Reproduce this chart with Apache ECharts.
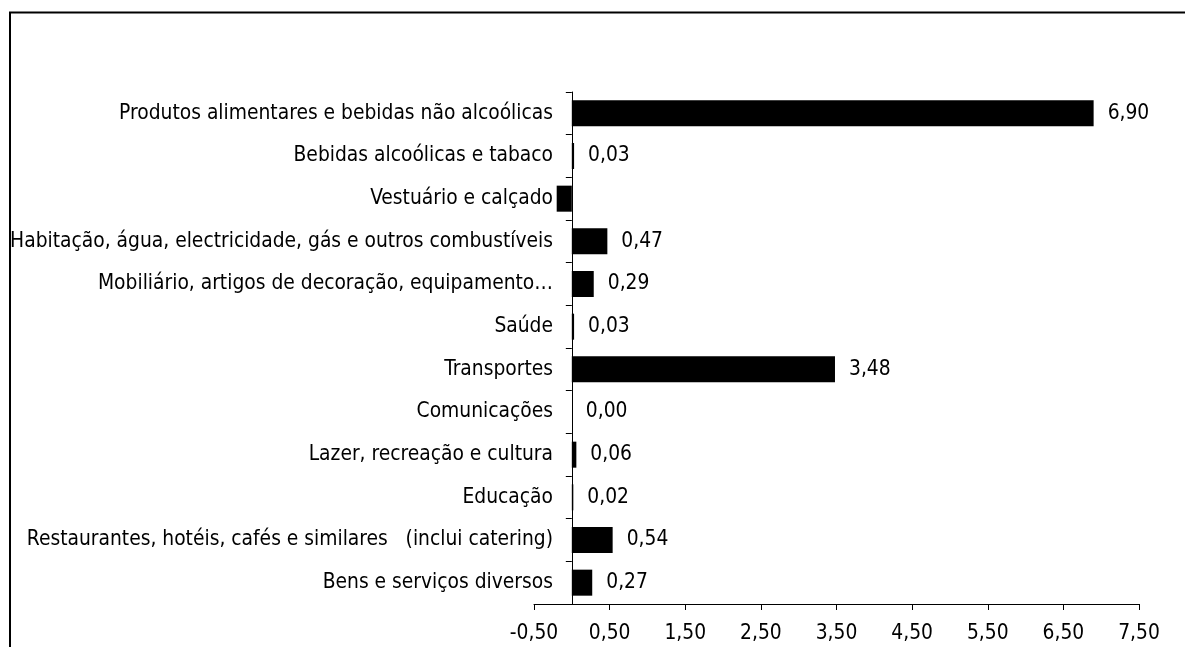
<!DOCTYPE html>
<html>
<head>
<meta charset="utf-8">
<script src="https://cdn.jsdelivr.net/npm/echarts@6/dist/echarts.min.js"></script>
<style>
  html, body { margin: 0; padding: 0; background: #fff; }
  #chart { width: 1185px; height: 647px; }
</style>
</head>
<body>
<div id="chart"></div>
<script>
  // categories, top to bottom as shown
  var categories = [
    'Produtos alimentares e bebidas não alcoólicas',
    'Bebidas alcoólicas e tabaco',
    'Vestuário e calçado',
    'Habitação, água, electricidade, gás e outros combustíveis',
    'Mobiliário, artigos de decoração, equipamento…',
    'Saúde',
    'Transportes',
    'Comunicações',
    'Lazer, recreação e cultura',
    'Educação',
    'Restaurantes, hotéis, cafés e similares   (inclui catering)',
    'Bens e serviços diversos'
  ];
  var values = [6.90, 0.03, -0.20, 0.47, 0.29, 0.03, 3.48, 0.00, 0.06, 0.02, 0.54, 0.27];
  // the negative bar has no label in the original
  var showLabel = [true, true, false, true, true, true, true, true, true, true, true, true];
  var xMin = -0.5, xMax = 7.5, xStep = 1;

  var font = '"DejaVu Sans Condensed", "DejaVu Sans", sans-serif';
  var fs = 20.8;
  var echart = echarts.init(document.getElementById('chart'));

  var barData = values.map(function (v, i) {
    return { value: v, label: { show: showLabel[i] } };
  }).reverse();

  echart.setOption({
    animation: false,
    grid: { left: 534, right: 46, top: 92, bottom: 43 },
    xAxis: {
      type: 'value',
      min: xMin,
      max: xMax,
      interval: xStep,
      splitLine: { show: false },
      axisLine: { show: true, onZero: false, lineStyle: { color: '#000', width: 1 } },
      axisTick: { show: true, length: 6, lineStyle: { color: '#000' } },
      axisLabel: {
        color: '#000', fontFamily: font, fontSize: fs, margin: 19,
        formatter: function (v) { return v.toFixed(2).replace('.', ','); }
      }
    },
    yAxis: {
      type: 'category',
      data: categories.slice().reverse(),
      axisLine: { show: true, onZero: true, lineStyle: { color: '#000', width: 1 } },
      axisTick: { show: true, length: 6, lineStyle: { color: '#000' } },
      axisLabel: { color: '#000', fontFamily: font, fontSize: fs, margin: -19 }
    },
    series: [{
      type: 'bar',
      data: barData,
      barCategoryGap: '39%',
      itemStyle: { color: '#000' },
      label: {
        position: 'right',
        distance: 14,
        color: '#000',
        fontFamily: font,
        fontSize: fs,
        formatter: function (p) { return p.value.toFixed(2).replace('.', ','); }
      }
    }],
    graphic: [{
      type: 'polyline',
      shape: { points: [[10, 647], [10, 12.5], [1185, 12.5]] },
      style: { stroke: '#000', lineWidth: 2, fill: null }
    }]
  });

  window.addEventListener('resize', function () { echart.resize(); });
</script>
</body>
</html>
